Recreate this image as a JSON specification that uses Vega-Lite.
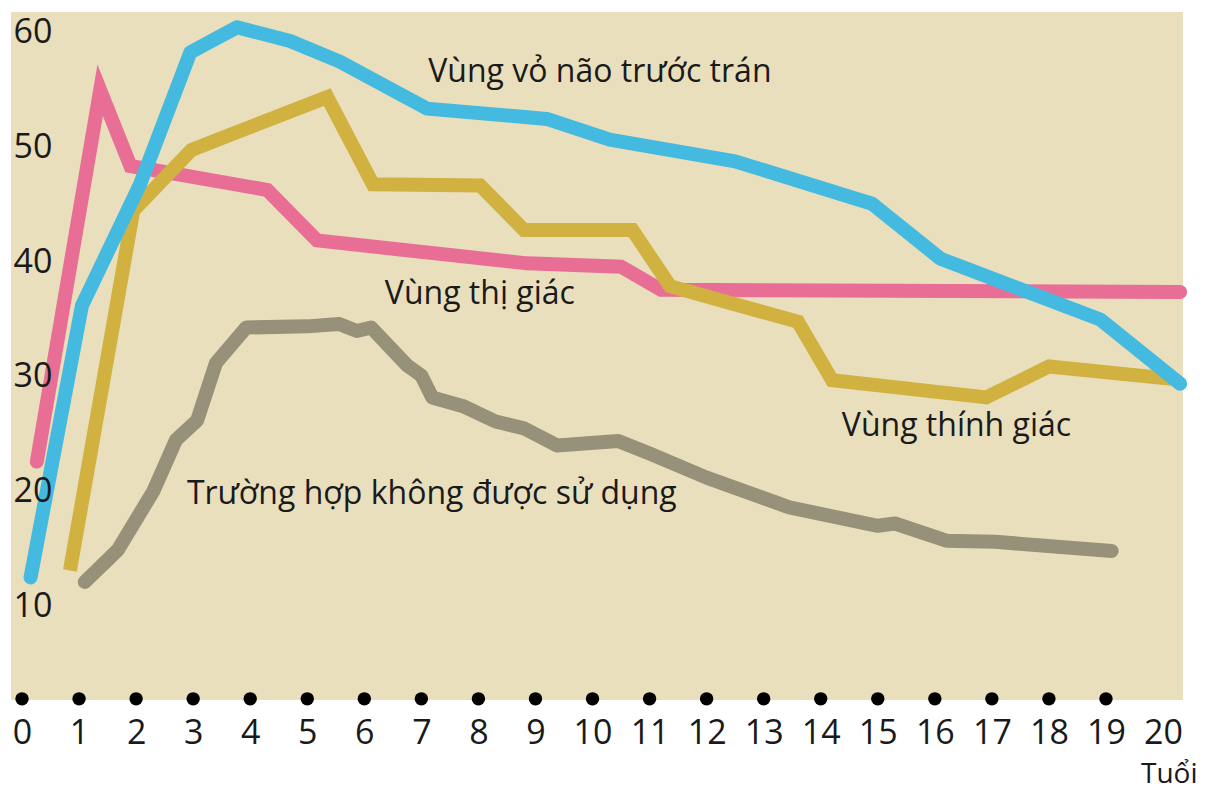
{
  "$schema": "https://vega.github.io/schema/vega-lite/v6.json",
  "width": 1172,
  "height": 688,
  "autosize": {"type": "none"},
  "padding": {"left": 11, "top": 12, "right": 24, "bottom": 91},
  "background": "#ffffff",
  "config": {
    "view": {"fill": "#E9DFBC", "stroke": null},
    "font": "Open Sans"
  },
  "datasets": {
    "lines": [
      {"series": "Vùng thị giác", "age": 0.26, "value": 22.6},
      {"series": "Vùng thị giác", "age": 1.37, "value": 55.0},
      {"series": "Vùng thị giác", "age": 1.9, "value": 48.4},
      {"series": "Vùng thị giác", "age": 4.3, "value": 46.3},
      {"series": "Vùng thị giác", "age": 5.17, "value": 41.9},
      {"series": "Vùng thị giác", "age": 8.85, "value": 39.9},
      {"series": "Vùng thị giác", "age": 10.5, "value": 39.6},
      {"series": "Vùng thị giác", "age": 11.2, "value": 37.6},
      {"series": "Vùng thị giác", "age": 20.3, "value": 37.4},

      {"series": "Trường hợp không được sử dụng", "age": 1.1, "value": 12.1},
      {"series": "Trường hợp không được sử dụng", "age": 1.68, "value": 14.9},
      {"series": "Trường hợp không được sử dụng", "age": 2.3, "value": 20.0},
      {"series": "Trường hợp không được sử dụng", "age": 2.7, "value": 24.5},
      {"series": "Trường hợp không được sử dụng", "age": 3.07, "value": 26.2},
      {"series": "Trường hợp không được sử dụng", "age": 3.4, "value": 31.2},
      {"series": "Trường hợp không được sử dụng", "age": 3.93, "value": 34.3},
      {"series": "Trường hợp không được sử dụng", "age": 5.0, "value": 34.4},
      {"series": "Trường hợp không được sử dụng", "age": 5.56, "value": 34.6},
      {"series": "Trường hợp không được sử dụng", "age": 5.87, "value": 34.0},
      {"series": "Trường hợp không được sử dụng", "age": 6.12, "value": 34.3},
      {"series": "Trường hợp không được sử dụng", "age": 6.75, "value": 31.0},
      {"series": "Trường hợp không được sử dụng", "age": 7.0, "value": 30.1},
      {"series": "Trường hợp không được sử dụng", "age": 7.19, "value": 28.2},
      {"series": "Trường hợp không được sử dụng", "age": 7.75, "value": 27.4},
      {"series": "Trường hợp không được sử dụng", "age": 8.3, "value": 26.1},
      {"series": "Trường hợp không được sử dụng", "age": 8.8, "value": 25.5},
      {"series": "Trường hợp không được sử dụng", "age": 9.38, "value": 24.0},
      {"series": "Trường hợp không được sử dụng", "age": 10.45, "value": 24.4},
      {"series": "Trường hợp không được sử dụng", "age": 11.0, "value": 23.3},
      {"series": "Trường hợp không được sử dụng", "age": 12.0, "value": 21.2},
      {"series": "Trường hợp không được sử dụng", "age": 12.45, "value": 20.4},
      {"series": "Trường hợp không được sử dụng", "age": 13.45, "value": 18.6},
      {"series": "Trường hợp không được sử dụng", "age": 15.0, "value": 17.0},
      {"series": "Trường hợp không được sử dụng", "age": 15.3, "value": 17.2},
      {"series": "Trường hợp không được sử dụng", "age": 16.2, "value": 15.7},
      {"series": "Trường hợp không được sử dụng", "age": 17.06, "value": 15.6},
      {"series": "Trường hợp không được sử dụng", "age": 19.1, "value": 14.8},

      {"series": "Vùng thính giác", "age": 0.84, "value": 13.1},
      {"series": "Vùng thính giác", "age": 1.95, "value": 44.5},
      {"series": "Vùng thính giác", "age": 2.97, "value": 49.8},
      {"series": "Vùng thính giác", "age": 5.35, "value": 54.4},
      {"series": "Vùng thính giác", "age": 6.15, "value": 46.8},
      {"series": "Vùng thính giác", "age": 8.03, "value": 46.7},
      {"series": "Vùng thính giác", "age": 8.8, "value": 42.8},
      {"series": "Vùng thính giác", "age": 10.7, "value": 42.8},
      {"series": "Vùng thính giác", "age": 11.36, "value": 37.9},
      {"series": "Vùng thính giác", "age": 13.6, "value": 34.8},
      {"series": "Vùng thính giác", "age": 14.2, "value": 29.7},
      {"series": "Vùng thính giác", "age": 16.9, "value": 28.2},
      {"series": "Vùng thính giác", "age": 18.0, "value": 30.9},
      {"series": "Vùng thính giác", "age": 20.2, "value": 29.8},

      {"series": "Vùng vỏ não trước trán", "age": 0.15, "value": 12.5},
      {"series": "Vùng vỏ não trước trán", "age": 1.05, "value": 36.2},
      {"series": "Vùng vỏ não trước trán", "age": 2.07, "value": 46.8},
      {"series": "Vùng vỏ não trước trán", "age": 2.95, "value": 58.3},
      {"series": "Vùng vỏ não trước trán", "age": 3.77, "value": 60.5},
      {"series": "Vùng vỏ não trước trán", "age": 4.7, "value": 59.3},
      {"series": "Vùng vỏ não trước trán", "age": 5.57, "value": 57.5},
      {"series": "Vùng vỏ não trước trán", "age": 7.1, "value": 53.4},
      {"series": "Vùng vỏ não trước trán", "age": 9.2, "value": 52.5},
      {"series": "Vùng vỏ não trước trán", "age": 10.3, "value": 50.7},
      {"series": "Vùng vỏ não trước trán", "age": 12.5, "value": 48.8},
      {"series": "Vùng vỏ não trước trán", "age": 14.9, "value": 45.1},
      {"series": "Vùng vỏ não trước trán", "age": 16.1, "value": 40.3},
      {"series": "Vùng vỏ não trước trán", "age": 18.9, "value": 35.0},
      {"series": "Vùng vỏ não trước trán", "age": 20.3, "value": 29.4}
    ],
    "dots": [
      {"age": 0}, {"age": 1}, {"age": 2}, {"age": 3}, {"age": 4},
      {"age": 5}, {"age": 6}, {"age": 7}, {"age": 8}, {"age": 9},
      {"age": 10}, {"age": 11}, {"age": 12}, {"age": 13}, {"age": 14},
      {"age": 15}, {"age": 16}, {"age": 17}, {"age": 18}, {"age": 19}
    ],
    "labels": [
      {"text": "Vùng vỏ não trước trán", "age": 7.12, "value": 56.6},
      {"text": "Vùng thị giác", "age": 6.36, "value": 37.2},
      {"text": "Vùng thính giác", "age": 14.37, "value": 25.7},
      {"text": "Trường hợp không được sử dụng", "age": 2.89, "value": 19.8}
    ]
  },
  "layer": [
    {
      "data": {"name": "lines"},
      "transform": [{"filter": "datum.series === 'Vùng thị giác'"}],
      "mark": {"type": "line", "strokeWidth": 14, "strokeCap": "round", "strokeJoin": "miter", "color": "#E86E96", "clip": false},
      "encoding": {
        "x": {
          "field": "age",
          "type": "quantitative",
          "scale": {"domain": [-0.193, 20.35], "nice": false, "zero": false},
          "axis": {
            "orient": "bottom",
            "values": [0,1,2,3,4,5,6,7,8,9,10,11,12,13,14,15,16,17,18,19,20],
            "format": "d",
            "ticks": false,
            "tickSize": 0,
            "domain": false,
            "grid": false,
            "zindex": 1,
            "labelFont": "Open Sans",
            "labelFontSize": 34,
            "labelPadding": 33,
            "labelBaseline": "middle",
            "labelFlush": false,
            "labelOverlap": false,
            "labelColor": "#1a1a1a",
            "title": "Tuổi",
            "titleFont": "Open Sans",
            "titleFontSize": 28,
            "titleFontWeight": "normal",
            "titleColor": "#1a1a1a",
            "titleX": 1186,
            "titleY": 82,
            "titleAlign": "right",
            "titleBaseline": "alphabetic"
          }
        },
        "y": {
          "field": "value",
          "type": "quantitative",
          "scale": {"domain": [1.8, 61.83], "nice": false, "zero": false},
          "axis": {
            "orient": "left",
            "values": [10, 20, 30, 40, 50, 60],
            "format": "d",
            "ticks": false,
            "tickSize": 0,
            "domain": false,
            "grid": false,
            "zindex": 1,
            "labelFont": "Open Sans",
            "labelFontSize": 34,
            "labelAlign": "left",
            "labelBaseline": "middle",
            "labelPadding": -2,
            "labelColor": "#1a1a1a",
            "title": null
          }
        }
      }
    },
    {
      "data": {"name": "lines"},
      "transform": [{"filter": "datum.series === 'Trường hợp không được sử dụng'"}],
      "mark": {"type": "line", "strokeWidth": 14, "strokeCap": "round", "strokeJoin": "round", "color": "#969178", "clip": false},
      "encoding": {
        "x": {"field": "age", "type": "quantitative"},
        "y": {"field": "value", "type": "quantitative"}
      }
    },
    {
      "data": {"name": "lines"},
      "transform": [{"filter": "datum.series === 'Vùng thính giác'"}],
      "mark": {"type": "line", "strokeWidth": 14, "strokeCap": "butt", "strokeJoin": "miter", "color": "#D1B240", "clip": false},
      "encoding": {
        "x": {"field": "age", "type": "quantitative"},
        "y": {"field": "value", "type": "quantitative"}
      }
    },
    {
      "data": {"name": "lines"},
      "transform": [{"filter": "datum.series === 'Vùng vỏ não trước trán'"}],
      "mark": {"type": "line", "strokeWidth": 14, "strokeCap": "round", "strokeJoin": "round", "color": "#44BAE0", "clip": false},
      "encoding": {
        "x": {"field": "age", "type": "quantitative"},
        "y": {"field": "value", "type": "quantitative"}
      }
    },
    {
      "data": {"name": "dots"},
      "mark": {"type": "circle", "color": "#000000", "opacity": 1, "size": 180, "clip": false},
      "encoding": {
        "x": {"field": "age", "type": "quantitative"},
        "y": {"datum": 1.9, "type": "quantitative"}
      }
    },
    {
      "data": {"name": "labels"},
      "mark": {"type": "text", "align": "left", "baseline": "middle", "font": "Open Sans", "fontSize": 32, "color": "#1a1a1a"},
      "encoding": {
        "x": {"field": "age", "type": "quantitative"},
        "y": {"field": "value", "type": "quantitative"},
        "text": {"field": "text", "type": "nominal"}
      }
    }
  ]
}
